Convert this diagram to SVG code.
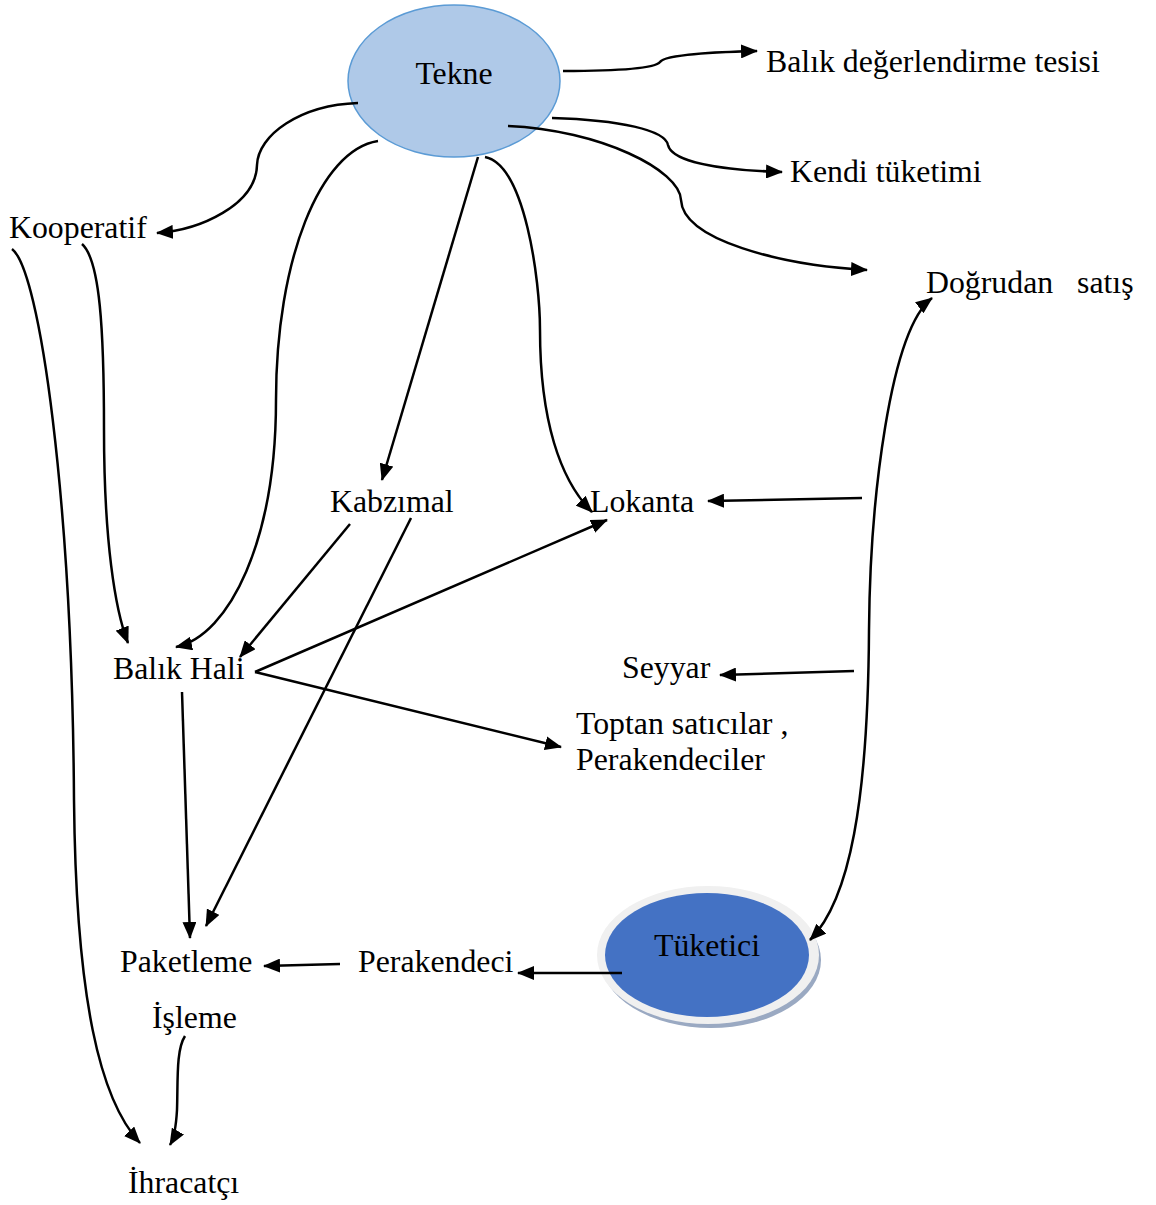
<svg xmlns="http://www.w3.org/2000/svg" width="1156" height="1205" viewBox="0 0 1156 1205">
<defs>
<marker id="ah" markerUnits="userSpaceOnUse" markerWidth="18" markerHeight="14" refX="16" refY="7" orient="auto-start-reverse">
<path d="M0,0 L17,7 L0,14 z" fill="#000"/>
</marker>
</defs>
<style>
text{font-family:"Liberation Serif","Times New Roman",serif;font-size:31.8px;fill:#000;white-space:pre}
.c{fill:none;stroke:#000;stroke-width:2.5;marker-end:url(#ah)}
</style>
<rect width="1156" height="1205" fill="#fff"/>
<g id="tekne">
<ellipse cx="454" cy="81" rx="106" ry="76" fill="#afc9e8" stroke="#5b9bd5" stroke-width="1.5"/>
<text x="454" y="84" text-anchor="middle">Tekne</text>
</g>
<g id="tuketici">
<ellipse cx="711" cy="960" rx="110" ry="68" fill="#9aa9c2"/>
<ellipse cx="708" cy="955" rx="111" ry="69" fill="#f0f0f0"/>
<ellipse cx="707" cy="955" rx="102" ry="62" fill="#4472c4"/>
<text x="707" y="956" text-anchor="middle">Tüketici</text>
</g>
<g id="connectors">
<path class="c" d="M563,71 C620,71 655,68 660,62 C665,54 720,52 757,51"/>
<path class="c" d="M552,118 C620,120 665,130 668,145 C672,162 720,170 782,172"/>
<path class="c" d="M508,126 C600,130 680,170 681,200 C683,240 780,265 867,270"/>
<path class="c" d="M358,103 C300,105 258,135 257,165 C256,205 200,230 157,233"/>
<path class="c" d="M378,141 C320,150 276,260 276,400 C276,540 230,635 176,647"/>
<path class="c" d="M478,157 L382,480"/>
<path class="c" d="M485,157 C525,165 540,280 540,330 C540,420 560,480 592,512"/>
<path class="c" d="M82,244 C100,260 104,330 104,430 C104,540 115,610 128,643"/>
<path class="c" d="M12,249 C40,270 72,500 74,800 C76,1000 100,1100 140,1143"/>
<path class="c" d="M350,524 L240,657"/>
<path class="c" d="M411,518 L206,926"/>
<path class="c" d="M255,672 L607,520"/>
<path class="c" d="M255,672 L561,747"/>
<path class="c" d="M182,692 L190,938"/>
<path class="c" style="marker-start:url(#ah)" d="M932,298 C890,330 870,500 869,630 C868,800 850,900 810,940"/>
<path class="c" d="M862,498 L708,501"/>
<path class="c" d="M854,671 L720,675"/>
<path class="c" d="M622,973 L518,973"/>
<path class="c" d="M340,964 L264,966"/>
<path class="c" d="M185,1036 C176,1050 178,1080 177,1110 C176,1128 174,1138 170,1145"/>
</g>
<g id="balik-degerlendirme"><text x="766" y="72">Balık değerlendirme tesisi</text></g>
<g id="kendi-tuketimi"><text x="790" y="182">Kendi tüketimi</text></g>
<g id="dogrudan-satis"><text x="926" y="293">Doğrudan   satış</text></g>
<g id="kooperatif"><text x="9" y="238">Kooperatif</text></g>
<g id="kabzimal"><text x="330" y="512">Kabzımal</text></g>
<g id="lokanta"><text x="590" y="512">Lokanta</text></g>
<g id="balik-hali"><text x="113" y="679">Balık Hali</text></g>
<g id="seyyar"><text x="622" y="678">Seyyar</text></g>
<g id="toptan"><text x="576" y="734">Toptan satıcılar ,</text><text x="576" y="770">Perakendeciler</text></g>
<g id="paketleme"><text x="120" y="972">Paketleme</text></g>
<g id="perakendeci"><text x="358" y="972">Perakendeci</text></g>
<g id="isleme"><text x="152" y="1028">İşleme</text></g>
<g id="ihracatci"><text x="128" y="1193">İhracatçı</text></g>
</svg>
